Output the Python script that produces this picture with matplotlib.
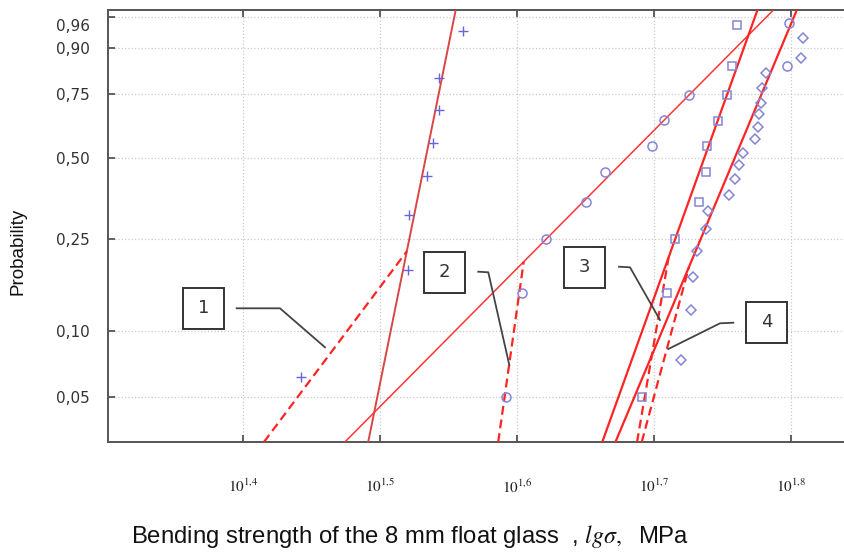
#!/usr/bin/env python3
"""
Weibull probability plot: bending strength of 8 mm float glass
"""
import numpy as np
import matplotlib
matplotlib.use('Agg')
import matplotlib.pyplot as plt
from matplotlib import transforms
from matplotlib.patches import Rectangle
from matplotlib.lines import Line2D

plt.rcParams['mathtext.fontset'] = 'stix'

# ====== data: lg(sigma) and failure probability P ======
# series 1 (+)
lg1 = [1.4427, 1.5206, 1.5213, 1.5340, 1.5384, 1.5430, 1.5430, 1.5603]
p1 = [0.062, 0.185, 0.311, 0.434, 0.558, 0.687, 0.809, 0.936]
# series 2 (circles)
lg2 = [1.5917, 1.6034, 1.6210, 1.6502, 1.6643, 1.6984, 1.7076, 1.7259, 1.7970, 1.7982]
p2 = [0.050, 0.148, 0.249, 0.348, 0.447, 0.546, 0.648, 0.746, 0.848, 0.950]
# series 3 (squares)
lg3 = [1.6911, 1.7098, 1.7154, 1.7332, 1.7378, 1.7390, 1.7466, 1.7532, 1.7568, 1.7605]
p3 = [0.050, 0.148, 0.249, 0.348, 0.447, 0.546, 0.645, 0.746, 0.848, 0.948]
# series 4 (diamonds)
lg4 = [1.7198, 1.7269, 1.7288, 1.7313, 1.7378, 1.7397, 1.7551, 1.7592, 1.7617,
       1.7653, 1.7738, 1.7758, 1.7763, 1.7782, 1.7792, 1.7817, 1.8075, 1.8091]
p4 = [0.074, 0.124, 0.173, 0.223, 0.273, 0.323, 0.372, 0.423, 0.473,
      0.520, 0.572, 0.621, 0.672, 0.718, 0.773, 0.824, 0.873, 0.923]

# fitted lines: lg(sigma) at P=63.2% and slope in Weibull units per lg
fit_x0 = [1.5384, 1.7045, 1.7456, 1.7693]
fit_m = [73.6, 15.03, 41.5, 35.5]
# dashed (lower tail) lines
tail_x0 = [1.5891, 1.6191, 1.7273, 1.7537]
tail_m = [19.9, 105.5, 87.2, 55.2]

p_ticks = [0.05, 0.10, 0.25, 0.50, 0.75, 0.90, 0.96]
p_labels = ['0,05', '0,10', '0,25', '0,50', '0,75', '0,90', '0,96']
x_ticks = [1.4, 1.5, 1.6, 1.7, 1.8]
x_labels = [r'$10^{1{,}4}$', r'$10^{1{,}5}$', r'$10^{1{,}6}$', r'$10^{1{,}7}$', r'$10^{1{,}8}$']
callouts = ['1', '2', '3', '4']


def fwd(p):
    with np.errstate(all='ignore'):
        return np.log(-np.log(1 - np.asarray(p, dtype=float)))


def inv(y):
    return 1 - np.exp(-np.exp(np.asarray(y, dtype=float)))


# ====== figure ======
W, H = 844, 552
fig = plt.figure(figsize=(W / 100, H / 100), dpi=100)
ax = fig.add_axes([108 / W, 1 - 442 / H, 1 - 108 / W, 432 / H])
ax.set_yscale('function', functions=(fwd, inv))
ax.set_xlim(1.3015, 1.8387)
ax.set_ylim(0.0310, 0.9687)

y_lo, y_hi = fwd(0.0310), fwd(0.9687)

red = '#ff2424'
solid_style = [('#d84646', 1.4), ('#ff3434', 1.1), (red, 1.6), (red, 1.6)]
for x0, m, (c, lw) in zip(fit_x0, fit_m, solid_style):
    yy = np.array([y_lo, y_hi])
    ax.plot(x0 + yy / m, inv(yy), color=c, lw=lw, zorder=3)

for x0, m, xs0, ms in zip(tail_x0, tail_m, fit_x0, fit_m):
    # dashed tail runs from bottom up to where it meets the solid fit
    xj = (ms * xs0 - m * x0) / (ms - m)
    yj = ms * (xj - xs0)
    yy = np.array([y_lo, yj])
    ax.plot(x0 + yy / m, inv(yy), color=red, lw=1.6, ls=(0, (4, 2.2)), zorder=3)

mk = '#8585d6'
ax.plot(lg1, p1, '+', color='#6565dc', ms=7.5, mew=1.0, zorder=4)
ax.plot(lg2, p2, 'o', mfc='none', mec=mk, ms=6.5, mew=1.1, zorder=4)
ax.plot(lg3, p3, 's', mfc='none', mec=mk, ms=6, mew=1.1, zorder=4)
ax.plot(lg4, p4, 'D', mfc='none', mec=mk, ms=5.2, mew=1.1, zorder=4)

# axes styling
ax.set_xticks(x_ticks)
ax.set_xticklabels(x_labels, fontsize=11, color='#222')
ax.set_yticks(p_ticks)
ax.set_yticklabels(['' if t == 0.96 else l for t, l in zip(p_ticks, p_labels)],
                   fontsize=11, color='#333')
ax.minorticks_off()
ax.tick_params(axis='x', direction='in', length=5, width=1.3, color='#555',
               top=True, pad=26)
ax.tick_params(axis='y', direction='in', length=5, width=1.3, color='#555',
               right=False, pad=13)
# 0,96 label sits a little lower than its tick
tr = transforms.offset_copy(ax.get_yaxis_transform(), fig=fig, x=-18, y=-10, units='dots')
ax.text(0, 0.96, '0,96', transform=tr, ha='right', va='center', fontsize=11, color='#333')

ax.grid(True, color='#c9c9c9', ls=':', lw=0.9)
for s in ['left', 'top', 'bottom']:
    ax.spines[s].set_color('#555')
    ax.spines[s].set_linewidth(1.4)
ax.spines['right'].set_visible(False)


# ====== callouts (figure pixels) ======
def fp(x, y):
    return x / W, 1 - y / H


boxes = [(183.3, 287.7), (424.3, 251.7), (564.3, 246.7), (746, 301.7)]
leaders = [
    [(236.7, 308.3), (280, 308.3), (325, 347.3)],
    [(478.3, 271.7), (488.3, 272.3), (509.3, 365)],
    [(619, 266.7), (630, 267.3), (660, 320)],
    [(733.3, 322.7), (720, 323.3), (668.3, 349)],
]
bw, bh = 40.7, 41.5
for txt, (bx, by), pts in zip(callouts, boxes, leaders):
    x0, y0 = fp(bx, by + bh)
    fig.add_artist(Rectangle((x0, y0), bw / W, bh / H, transform=fig.transFigure,
                             fill=True, fc='white', ec='#333', lw=1.4, zorder=5))
    cx, cy = fp(bx + bw / 2, by + bh / 2)
    fig.text(cx, cy, txt, ha='center', va='center', fontsize=13, color='#333', zorder=6)
    xs, ys = zip(*[fp(px, py) for px, py in pts])
    fig.add_artist(Line2D(xs, ys, transform=fig.transFigure, color='#444', lw=1.3, zorder=5))

# axis titles
fig.text(*fp(18, 251), 'Probability', rotation=90, ha='center', va='center',
         fontsize=13.5, family='Liberation Sans', color='#111')
fig.text(*fp(131, 537), r'Bending strength of the 8 mm float glass  , $lg\sigma,$  MPa',
         ha='left', va='center', fontsize=17.2, family='Liberation Sans', color='#111')

plt.savefig('out.png', dpi=100)
plt.close()
